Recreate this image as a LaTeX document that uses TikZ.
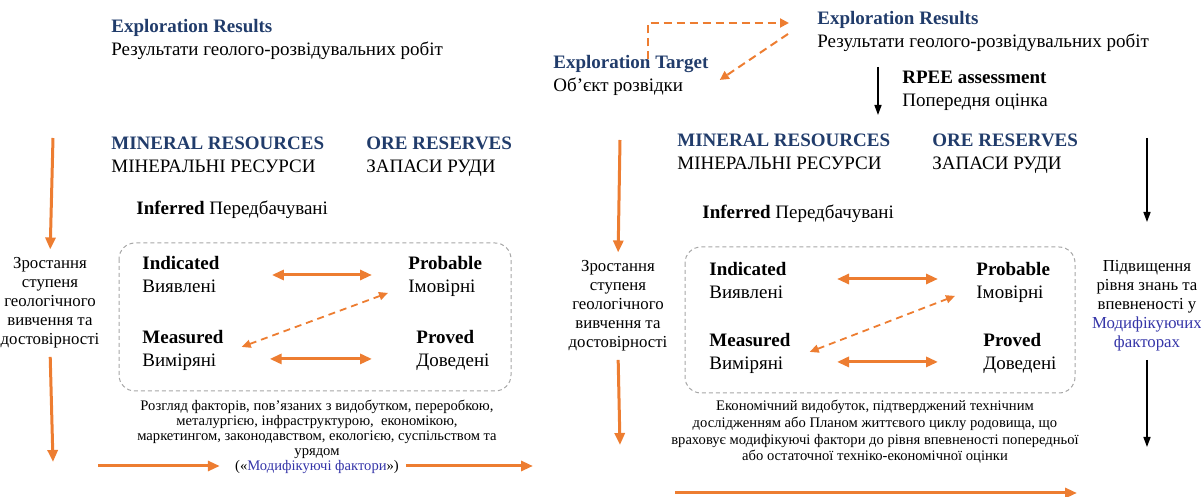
\documentclass[tikz,border=0pt]{standalone}
\usepackage{fontspec}
\setmainfont{Liberation Serif}
\usetikzlibrary{arrows.meta}
\definecolor{navy}{HTML}{213C6B}
\definecolor{ora}{HTML}{ED7D31}
\definecolor{modblue}{HTML}{3535A8}
\definecolor{boxgray}{HTML}{A6A6A6}
\newcommand{\hd}[1]{{\color{navy}\bfseries #1}}
\newcommand{\md}[1]{{\color{modblue}#1}}

\begin{document}
\begin{tikzpicture}[x=0.5pt,y=-0.5pt,
    lbl/.style={inner sep=0pt,anchor=base west,align=left,font=\fontsize{9.5}{11.5}\selectfont},
    side/.style={inner sep=0pt,anchor=base,align=center,font=\fontsize{8.4}{9.5}\selectfont},
    note/.style={inner sep=0pt,anchor=base,align=center,font=\fontsize{7.3}{7.5}\selectfont},
    rbox/.style={draw=boxgray,line width=0.5pt,dash pattern=on 2pt off 1.5pt,rounded corners=8pt},
    oarrow/.style={draw=ora,line width=1.5pt,-{Triangle[length=6pt,width=5pt]}},
    biarrow/.style={draw=ora,line width=1.5pt,{Triangle[length=6pt,width=5pt]}-{Triangle[length=6pt,width=5pt]}},
    dbiarrow/.style={draw=ora,line width=0.9pt,dash pattern=on 3.5pt off 2.5pt,{Triangle[length=4.5pt,width=4pt]}-{Triangle[length=4.5pt,width=4pt]}},
    darrow/.style={draw=ora,line width=1pt,dash pattern=on 4pt off 2.5pt,-{Triangle[length=4.5pt,width=4.5pt]}},
    karrow/.style={draw=black,line width=0.75pt,-{Triangle[length=5pt,width=3.5pt]}}]
\useasboundingbox (0,0) rectangle (1201,497);

% left panel
\node[lbl] (erL) at (111,56) {\hd{Exploration Results}\\Результати геолого-розвідувальних робіт};
\node[lbl] (mrL) at (111,173) {\hd{MINERAL RESOURCES}\\МІНЕРАЛЬНІ РЕСУРСИ};
\node[lbl] (oreL) at (366,173) {\hd{ORE RESERVES}\\ЗАПАСИ РУДИ};
\node[lbl] (infL) at (136,215) {\textbf{Inferred} Передбачувані};
\draw[rbox] (119,243) rectangle (511,391);
\node[lbl] (indL) at (142,293) {\textbf{Indicated}\\Виявлені};
\node[lbl] (probL) at (408,293) {\textbf{Probable}\\Імовірні};
\node[lbl] (measL) at (142,367) {\textbf{Measured}\\Виміряні};
\node[lbl] (provL) at (416,367) {\textbf{Proved}\\Доведені};
\node[side] (sideL) at (50,345) {Зростання\\ступеня\\геологічного\\вивчення та\\достовірності};
\node[note] (noteL) at (317,456) {Розгляд факторів, пов'язаних з видобутком, переробкою,\\металургією, інфраструктурою,\ \ економікою,\\маркетингом, законодавством, екологією, суспільством та\\урядом};
\node[note] (modL) at (317,471) {(«\md{Модифікуючі фактори}»)};
\coordinate (topL) at (53,138);
\coordinate (botL) at (53,462);
\coordinate (startL) at (98,466);
\coordinate (endL) at (533,466);

\draw[oarrow] (topL) -- (sideL.north) [shorten >=4pt];
\draw[oarrow] (sideL.south) -- (botL) [shorten <=4pt];
\draw[biarrow] ([xshift=26pt]indL.east) -- ([xshift=-18pt]indL.east -| probL.west);
\draw[biarrow] ([xshift=23pt,yshift=-4pt]measL.east) -- ([xshift=-22pt,yshift=-4pt]measL.east -| provL.west);
\draw[dbiarrow] ([xshift=9pt,yshift=2pt]measL.east) -- ([xshift=-10pt,yshift=-8pt]probL.west);
\draw[oarrow] (startL) -- (startL -| modL.west) [shorten >=7.5pt];
\draw[oarrow] (modL.east |- endL) -- (endL) [shorten <=3.5pt];

% right panel
\node[lbl] (erR) at (817,48) {\hd{Exploration Results}\\Результати геолого-розвідувальних робіт};
\node[lbl] (etR) at (553,92) {\hd{Exploration Target}\\Об’єкт розвідки};
\node[lbl] (rpeeR) at (902,107) {\textbf{RPEE assessment}\\Попередня оцінка};
\node[lbl] (mrR) at (677,170) {\hd{MINERAL RESOURCES}\\МІНЕРАЛЬНІ РЕСУРСИ};
\node[lbl] (oreR) at (932,170) {\hd{ORE RESERVES}\\ЗАПАСИ РУДИ};
\node[lbl] (infR) at (702,219) {\textbf{Inferred} Передбачувані};
\draw[rbox] (685,247) rectangle (1075,393);
\node[lbl] (indR) at (709,299) {\textbf{Indicated}\\Виявлені};
\node[lbl] (probR) at (976,299) {\textbf{Probable}\\Імовірні};
\node[lbl] (measR) at (709,370) {\textbf{Measured}\\Виміряні};
\node[lbl] (provR) at (983,370) {\textbf{Proved}\\Доведені};
\node[side] (sideR) at (618,348) {Зростання\\ступеня\\геологічного\\вивчення та\\достовірності};
\node[side] (knowR) at (1147,348) {Підвищення\\рівня знань та\\впевненості у\\\md{Модифікуючих}\\\md{факторах}};
\node[note,font=\fontsize{7.3}{8.35}\selectfont] (noteR) at (875,461) {Економічний видобуток, підтверджений технічним\\дослідженням або Планом життєвого циклу родовища, що\\враховує модифікуючі фактори до рівня впевненості попередньої\\або остаточної техніко-економічної оцінки};
\coordinate (elbow) at (648,23);
\coordinate (rpeeTop) at (878,67);
\coordinate (rpeeBot) at (878,115);
\coordinate (topR) at (620,140);
\coordinate (botR) at (620,445);
\coordinate (topK) at (1147,138);
\coordinate (tipK) at (1147,222);
\coordinate (botK) at (1147,447);
\coordinate (startR) at (675,493);
\coordinate (endR) at (1077,493);

\draw[darrow] ([yshift=-2pt]etR.north -| elbow) -- (elbow) -- (elbow -| erR.west) [shorten >=14pt];
\draw[darrow] ([xshift=-14.5pt,yshift=-1pt]erR.west) -- ([xshift=5.5pt,yshift=-2pt]etR.east);
\draw[karrow] (rpeeTop) -- (rpeeBot);
\draw[oarrow] (topR) -- (sideR.north) [shorten >=4pt];
\draw[oarrow] (sideR.south) -- (botR) [shorten <=4pt];
\draw[karrow] (topK) -- (tipK);
\draw[karrow] (knowR.south) -- (botK) [shorten <=4pt];
\draw[biarrow] ([xshift=64pt,yshift=1pt]indR.west) -- ([xshift=-19pt,yshift=1pt]indR.west -| probR.west);
\draw[biarrow] ([xshift=64pt,yshift=-4pt]measR.west) -- ([xshift=-19pt,yshift=-4pt]measR.west -| probR.west);
\draw[dbiarrow] ([xshift=9.5pt,yshift=1pt]measR.east) -- ([xshift=-10.5pt,yshift=-6.5pt]probR.west);
\draw[oarrow] (startR) -- (endR);
\end{tikzpicture}
\end{document}
